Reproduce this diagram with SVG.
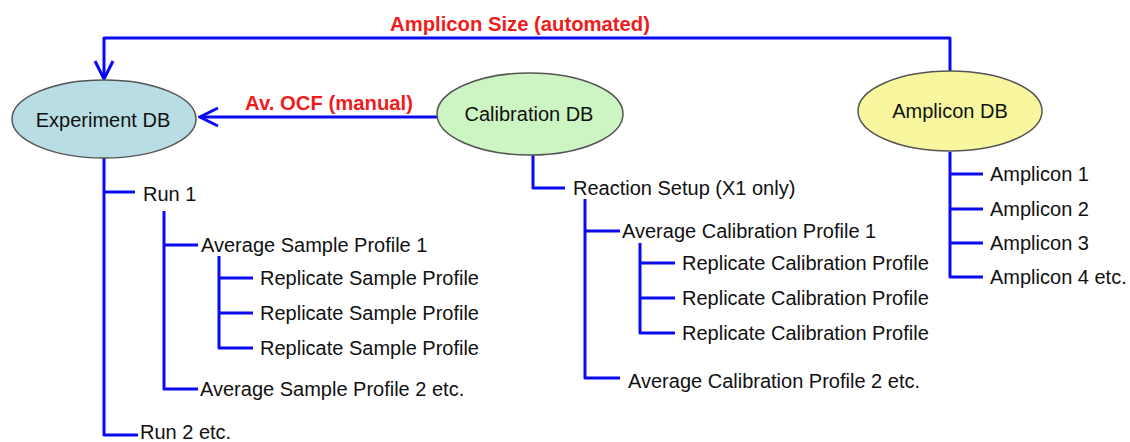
<svg xmlns="http://www.w3.org/2000/svg" width="1130" height="442" viewBox="0 0 1130 442">
<style>
.db{stroke:#555;stroke-width:1.5}
.lbl{font-family:"Liberation Sans",Arial,sans-serif;font-size:20px;fill:#111}
.red{font-family:"Liberation Sans",Arial,sans-serif;font-size:21px;font-weight:bold;fill:#ee1c1c}
.ln{fill:none;stroke:#0a0af0;stroke-width:3;stroke-linejoin:round}
</style>
<defs>
<marker id="arr" viewBox="-20 -11 22 22" refX="0" refY="0" markerWidth="22" markerHeight="22" markerUnits="userSpaceOnUse" orient="auto">
<path d="M-18,-9 L0,0 L-18,9" fill="none" stroke="#0a0af0" stroke-width="3"/>
</marker>
</defs>
<rect width="1130" height="442" fill="#fff"/>
<g id="connectors">
<path class="ln" d="M950,71 V38 H104 V79" marker-end="url(#arr)"/>
<path class="ln" d="M437,117 H200" marker-end="url(#arr)"/>
<path class="ln" d="M104,158 V435 H138 M104,192 H135"/>
<path class="ln" d="M164,211 V389 H198 M164,245 H198"/>
<path class="ln" d="M219,256 V348 H253 M219,278 H253 M219,313 H253"/>
<path class="ln" d="M533,155 V188 H565"/>
<path class="ln" d="M585,199 V378 H620 M585,231 H620"/>
<path class="ln" d="M640,243 V333 H675 M640,263 H675 M640,298 H675"/>
<path class="ln" d="M950,152 V277 H983 M950,174 H983 M950,209 H983 M950,243 H983"/>
</g>
<g id="label-amplicon-size"><text class="red" x="520" y="31" text-anchor="middle" textLength="260" lengthAdjust="spacingAndGlyphs">Amplicon Size (automated)</text></g>
<g id="label-ocf"><text class="red" x="329" y="110" text-anchor="middle" textLength="168" lengthAdjust="spacingAndGlyphs">Av. OCF (manual)</text></g>
<g id="experiment-db">
<ellipse class="db" cx="104" cy="119" rx="92" ry="39" fill="#b9dde4"/>
<text class="lbl" x="103" y="127" text-anchor="middle">Experiment DB</text>
</g>
<g id="calibration-db">
<ellipse class="db" cx="530" cy="114" rx="93" ry="41" fill="#cdf5c3"/>
<text class="lbl" x="529" y="121" text-anchor="middle">Calibration DB</text>
</g>
<g id="amplicon-db">
<ellipse class="db" cx="950" cy="111" rx="92" ry="40" fill="#f8f79f"/>
<text class="lbl" x="950" y="118" text-anchor="middle">Amplicon DB</text>
</g>
<g id="run1"><text class="lbl" x="143" y="201">Run 1</text></g>
<g id="avg-sample-1"><text class="lbl" x="201" y="252">Average Sample Profile 1</text></g>
<g id="rep-sample-1"><text class="lbl" x="260" y="285">Replicate Sample Profile</text></g>
<g id="rep-sample-2"><text class="lbl" x="260" y="320">Replicate Sample Profile</text></g>
<g id="rep-sample-3"><text class="lbl" x="260" y="355">Replicate Sample Profile</text></g>
<g id="avg-sample-2"><text class="lbl" x="200" y="396">Average Sample Profile 2 etc.</text></g>
<g id="run2"><text class="lbl" x="140" y="439">Run 2 etc.</text></g>
<g id="reaction-setup"><text class="lbl" x="573" y="195">Reaction Setup (X1 only)</text></g>
<g id="avg-cal-1"><text class="lbl" x="622" y="238">Average Calibration Profile 1</text></g>
<g id="rep-cal-1"><text class="lbl" x="682" y="270">Replicate Calibration Profile</text></g>
<g id="rep-cal-2"><text class="lbl" x="682" y="305">Replicate Calibration Profile</text></g>
<g id="rep-cal-3"><text class="lbl" x="682" y="340">Replicate Calibration Profile</text></g>
<g id="avg-cal-2"><text class="lbl" x="628" y="388">Average Calibration Profile 2 etc.</text></g>
<g id="amplicon-1"><text class="lbl" x="990" y="181">Amplicon 1</text></g>
<g id="amplicon-2"><text class="lbl" x="990" y="216">Amplicon 2</text></g>
<g id="amplicon-3"><text class="lbl" x="990" y="250">Amplicon 3</text></g>
<g id="amplicon-4"><text class="lbl" x="990" y="284">Amplicon 4 etc.</text></g>
</svg>
